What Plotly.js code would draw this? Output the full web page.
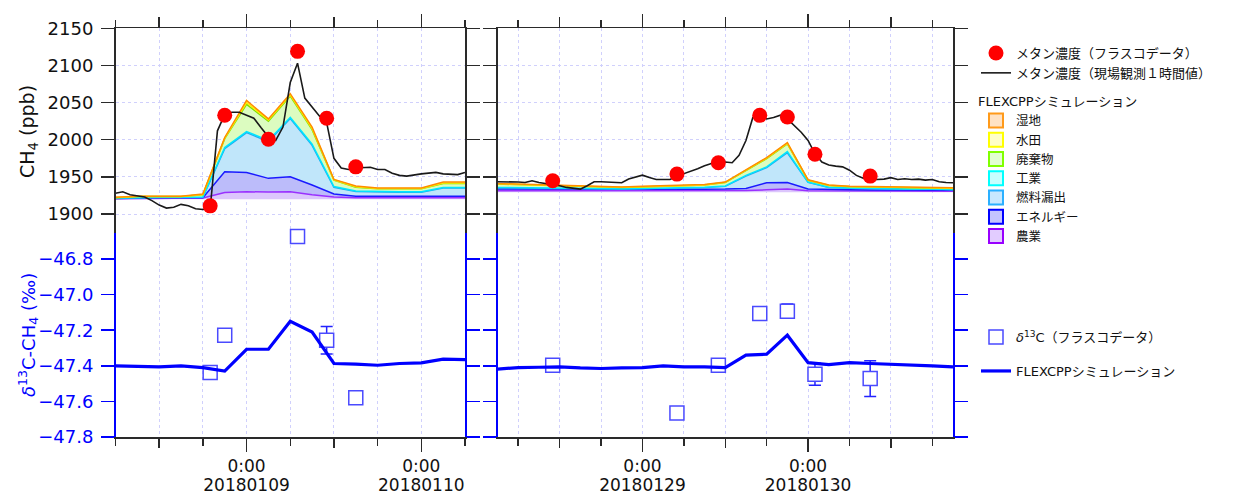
<!DOCTYPE html>
<html><head><meta charset="utf-8">
<script src="https://cdn.plot.ly/plotly-3.0.1.min.js"></script>
<style>html,body{margin:0;padding:0;background:#fff}#chart{width:1237px;height:497px}</style>
</head><body><div id="chart"></div>
<script>
// ================= DATA =================
// --- left period (2018-01-08 .. 2018-01-10) ---
const leftSimTimes = ["2018-01-08 06:00","2018-01-08 09:00","2018-01-08 12:00","2018-01-08 15:00","2018-01-08 18:00","2018-01-08 21:00","2018-01-09 00:00","2018-01-09 03:00","2018-01-09 06:00","2018-01-09 09:00","2018-01-09 12:00","2018-01-09 15:00","2018-01-09 18:00","2018-01-09 21:00","2018-01-10 00:00","2018-01-10 03:00","2018-01-10 06:00"];
const leftBackground = [1920,1920,1920,1920,1920,1920,1920,1920,1920,1920,1920,1920,1920,1920,1920,1920,1920];
const leftAgri     = [0.5,0.7,1,1,1.5,9,10,9.5,10,6,3,2,2,2,2,2,2];
const leftEnergy   = [0.5,1.3,1,1,0.5,28,26,18.5,20,13,4,2,2,2,2,2,2];
const leftFuel     = [0.3,0.3,0.3,0.3,0.7,31,53.5,49.5,78.5,53.5,9,6.3,5.3,5.3,5.3,11,11];
const leftIndustry = [0.2,0.2,0.2,0.2,0.3,1.5,1.5,1.5,1.5,1.5,1,0.7,0.7,0.7,0.7,0.8,0.8];
const leftWaste    = [0.5,1,1,1,3,12,36.6,26,28.8,19.6,8.6,5,4,4,4,5.2,5.2];
const leftRice     = [0.2,0.2,0.2,0.2,0.3,0.7,2.5,1.5,1.5,1.5,0.4,0.8,0.5,0.5,0.5,0.8,0.8];
const leftWetland  = [0.3,0.3,0.3,0.3,0.7,0.8,2.9,1.5,1.7,1.9,0.5,0.8,0.5,0.5,0.5,1.2,1.2];
const leftSimD13C  = [-47.400,-47.403,-47.406,-47.400,-47.410,-47.430,-47.307,-47.307,-47.150,-47.210,-47.387,-47.390,-47.397,-47.387,-47.383,-47.363,-47.365];

const leftObsTimes = ["2018-01-08 06:00","2018-01-08 07:00","2018-01-08 08:00","2018-01-08 09:00","2018-01-08 10:00","2018-01-08 11:00","2018-01-08 12:00","2018-01-08 13:00","2018-01-08 14:00","2018-01-08 15:00","2018-01-08 16:00","2018-01-08 17:00","2018-01-08 18:00","2018-01-08 19:00","2018-01-08 20:00","2018-01-08 21:00","2018-01-08 22:00","2018-01-08 23:00",
"2018-01-09 00:00","2018-01-09 01:00","2018-01-09 02:00","2018-01-09 03:00","2018-01-09 04:00","2018-01-09 05:00","2018-01-09 06:00","2018-01-09 07:00","2018-01-09 08:00","2018-01-09 09:00","2018-01-09 10:00","2018-01-09 11:00","2018-01-09 12:00","2018-01-09 13:00","2018-01-09 14:00","2018-01-09 15:00","2018-01-09 16:00","2018-01-09 17:00","2018-01-09 18:00","2018-01-09 19:00","2018-01-09 20:00","2018-01-09 21:00","2018-01-09 22:00","2018-01-09 23:00",
"2018-01-10 00:00","2018-01-10 01:00","2018-01-10 02:00","2018-01-10 03:00","2018-01-10 04:00","2018-01-10 05:00","2018-01-10 06:00"];
const leftObsCH4 = [1928,1930,1926,1925,1923,1918,1912,1908,1909,1913,1911,1907,1906,1907,2012,2034,2037,2037,
2033,2029,2016,2004,1999,2017,2077,2103,2056,2044,2032,2023,1975,1962,1960,1962,1963,1963,1960,1960,1955,1952,1951,1953,
1954,1955,1956,1954,1954,1953,1956];

const leftFlaskTimes = ["2018-01-08 19:00","2018-01-08 21:00","2018-01-09 03:00","2018-01-09 07:00","2018-01-09 11:00","2018-01-09 15:00"];
const leftFlaskCH4   = [1911,2033,2000.6,2119,2029,1963.5];
const leftIsoTimes   = ["2018-01-08 19:00","2018-01-08 21:00","2018-01-09 07:00","2018-01-09 11:00","2018-01-09 15:00"];
const leftIsoD13C    = [-47.438,-47.228,-46.674,-47.256,-47.579];
const leftIsoErr     = [0,0,0,0.077,0];

// --- right period (2018-01-28 .. 2018-01-30) ---
const rightSimTimes = ["2018-01-28 03:00","2018-01-28 06:00","2018-01-28 09:00","2018-01-28 12:00","2018-01-28 15:00","2018-01-28 18:00","2018-01-28 21:00","2018-01-29 00:00","2018-01-29 03:00","2018-01-29 06:00","2018-01-29 09:00","2018-01-29 12:00","2018-01-29 15:00","2018-01-29 18:00","2018-01-29 21:00","2018-01-30 00:00","2018-01-30 03:00","2018-01-30 06:00","2018-01-30 09:00","2018-01-30 12:00","2018-01-30 15:00","2018-01-30 18:00","2018-01-30 21:00"];
const rightBackground = [1929.3,1929.3,1929.3,1929.3,1929.3,1929.3,1929.3,1929.3,1929.3,1929.3,1929.3,1929.3,1929.3,1929.3,1929.3,1929.3,1929.3,1929.3,1929.3,1929.3,1929.3,1929.3,1929.3];
const rightAgri     = [2.0,2.0,2.0,2.0,2.0,2.0,2.0,2.0,2.0,2.0,2.0,2.0,2.2,3.2,4.3,2.0,1.8,1.8,1.7,1.7,1.6,1.5,1.5];
const rightEnergy   = [2.3,2.2,2.0,1.8,1.6,1.5,1.5,1.6,1.7,1.8,1.9,2.2,3.0,9.5,8.9,2.3,1.5,1.4,1.3,1.3,1.2,1.2,1.2];
const rightFuel     = [1.9,1.7,1.5,1.2,0.8,0.9,0.9,1.3,1.7,1.7,2.6,4.0,16.7,20.5,40.0,8.9,3.2,2.2,1.7,1.5,1.2,1.2,0.7];
const rightIndustry = [0.3,0.3,0.3,0.3,0.3,0.3,0.3,0.3,0.3,0.3,0.3,0.3,0.8,1.0,1.5,0.5,0.3,0.3,0.3,0.3,0.3,0.3,0.3];
const rightWaste    = [4.5,4.0,3.5,3.0,2.5,2.0,1.7,2.0,2.0,2.8,2.8,4.5,6.5,11.0,10.5,2.3,2.3,1.8,2.0,1.5,1.5,1.0,1.5];
const rightRice     = [0.3,0.3,0.3,0.3,0.3,0.3,0.3,0.3,0.3,0.3,0.3,0.3,0.7,0.7,0.7,0.3,0.3,0.3,0.3,0.3,0.3,0.3,0.3];
const rightWetland  = [0.4,0.4,0.4,0.4,0.4,0.4,0.4,0.4,0.4,0.4,0.4,0.4,0.8,0.8,0.8,0.4,0.4,0.4,0.4,0.4,0.4,0.4,0.4];
const rightSimD13C  = [-47.419,-47.410,-47.408,-47.406,-47.412,-47.415,-47.412,-47.410,-47.400,-47.406,-47.406,-47.410,-47.340,-47.335,-47.228,-47.382,-47.393,-47.382,-47.387,-47.390,-47.395,-47.400,-47.406];

const rightObsTimes = ["2018-01-28 03:00","2018-01-28 04:00","2018-01-28 05:00","2018-01-28 06:00","2018-01-28 07:00","2018-01-28 08:00","2018-01-28 09:00","2018-01-28 10:00","2018-01-28 11:00","2018-01-28 12:00","2018-01-28 13:00","2018-01-28 14:00","2018-01-28 15:00","2018-01-28 16:00","2018-01-28 17:00","2018-01-28 18:00","2018-01-28 19:00","2018-01-28 20:00","2018-01-28 21:00","2018-01-28 22:00","2018-01-28 23:00",
"2018-01-29 00:00","2018-01-29 01:00","2018-01-29 02:00","2018-01-29 03:00","2018-01-29 04:00","2018-01-29 05:00","2018-01-29 06:00","2018-01-29 07:00","2018-01-29 08:00","2018-01-29 09:00","2018-01-29 10:00","2018-01-29 11:00","2018-01-29 12:00","2018-01-29 13:00","2018-01-29 14:00","2018-01-29 15:00","2018-01-29 16:00","2018-01-29 17:00","2018-01-29 18:00","2018-01-29 19:00","2018-01-29 20:00","2018-01-29 21:00","2018-01-29 22:00","2018-01-29 23:00",
"2018-01-30 00:00","2018-01-30 01:00","2018-01-30 02:00","2018-01-30 03:00","2018-01-30 04:00","2018-01-30 05:00","2018-01-30 06:00","2018-01-30 07:00","2018-01-30 08:00","2018-01-30 09:00","2018-01-30 10:00","2018-01-30 11:00","2018-01-30 12:00","2018-01-30 13:00","2018-01-30 14:00","2018-01-30 15:00","2018-01-30 16:00","2018-01-30 17:00","2018-01-30 18:00","2018-01-30 19:00","2018-01-30 20:00","2018-01-30 21:00"];
const rightObsCH4 = [1943.4,1943.5,1943.4,1943.0,1942.5,1944.7,1942.5,1941.0,1940.0,1938.0,1935.8,1934.5,1933.5,1938.0,1943.4,1943.4,1943.0,1942.0,1942.0,1947.0,1950.0,
1952.3,1949.0,1946.5,1946.5,1946.5,1951.0,1954.0,1958.0,1961.0,1965.0,1968.0,1969.5,1970.0,1969.0,1979.0,1999.0,2030.0,2033.0,2028.0,2030.0,2033.0,2028.0,2019.0,2010.0,
1999.0,1981.0,1970.0,1966.0,1964.5,1963.5,1959.0,1952.0,1948.0,1945.6,1946.5,1947.0,1949.0,1946.5,1947.4,1946.5,1947.0,1945.6,1946.5,1943.4,1942.5,1942.0];

const rightFlaskTimes = ["2018-01-28 11:00","2018-01-29 05:00","2018-01-29 11:00","2018-01-29 17:00","2018-01-29 21:00","2018-01-30 01:00","2018-01-30 09:00"];
const rightFlaskCH4   = [1944.7,1953.7,1969,2032.8,2030.6,1980.5,1951];
const rightIsoD13C    = [-47.397,-47.665,-47.397,-47.106,-47.093,-47.447,-47.472];
const rightIsoErr     = [0,0,0,0,0.04,0.062,0.1];

// --- tick labels ---
const leftDayTicks    = ["2018-01-09 00:00","2018-01-10 00:00"];
const leftTimeLabels  = ["0:00","0:00"];
const leftDateLabels  = ["20180109","20180110"];
const leftNoonTicks   = ["2018-01-08 12:00","2018-01-09 12:00"];
const rightDayTicks   = ["2018-01-29 00:00","2018-01-30 00:00"];
const rightTimeLabels = ["0:00","0:00"];
const rightDateLabels = ["20180129","20180130"];
const rightNoonTicks  = ["2018-01-28 12:00","2018-01-29 12:00","2018-01-30 12:00"];
const ch4Ticks = [1900,1950,2000,2050,2100,2150];
const d13Ticks = [-47.8,-47.6,-47.4,-47.2,-47.0,-46.8];

// --- names ---
const sourceNames = ["農業","エネルギー","燃料漏出","工業","廃棄物","水田","湿地"]; // bottom -> top
const legendOrder = ["湿地","水田","廃棄物","工業","燃料漏出","エネルギー","農業"];

// ================= STYLE =================
const srcLine = {"湿地":"#ff8c00","水田":"#ffee00","廃棄物":"#80e000","工業":"#00e5ff","燃料漏出":"#22a8ee","エネルギー":"#1a1aff","農業":"#9a30ff"};
const srcFill = {"湿地":"#ffdcb4","水田":"#ffffbe","廃棄物":"#dcfcc0","工業":"#c4fcff","燃料漏出":"#c0e6fa","エネルギー":"#bcbcfa","農業":"#dcc6fc"};
const legFill = {"湿地":"#ffe2c4","水田":"#ffffc8","廃棄物":"#e2ffd2","工業":"#c8ffff","燃料漏出":"#c8e8ff","エネルギー":"#c4c4ff","農業":"#e2ccff"};
const legLine = {"湿地":"#ff9a1a","水田":"#ffff00","廃棄物":"#80ff00","工業":"#00ffff","燃料漏出":"#2ab0ff","エネルギー":"#0000ff","農業":"#9900ff"};

const W = 1237, H = 497;
const px = v => v / W, py = v => 1 - v / H;
const LAT = "DejaVu Sans, Noto Sans CJK JP, sans-serif";
const JP = "DejaVu Sans, Noto Sans CJK JP, sans-serif";
const AX = "#2a2a2a";
const GRID = "#d0d0fc";
const BLUE = "#0000ff";

const traces = [];
function addStack(times, bg, comps, xa, ya, grp) {
  traces.push({type:"scatter", mode:"lines", x:times, y:bg, xaxis:xa, yaxis:ya, stackgroup:grp,
    fill:"none", line:{width:0, color:"rgba(0,0,0,0)"}, showlegend:false, hoverinfo:"skip"});
  sourceNames.forEach((n, i) => {
    traces.push({type:"scatter", mode:"lines", x:times, y:comps[i], xaxis:xa, yaxis:ya, stackgroup:grp,
      fill:"tonexty", fillcolor:srcFill[n], line:{width:1.5, color:srcLine[n]}, name:n, showlegend:false});
  });
}
addStack(leftSimTimes, leftBackground, [leftAgri,leftEnergy,leftFuel,leftIndustry,leftWaste,leftRice,leftWetland], "x", "y", "L");
addStack(rightSimTimes, rightBackground, [rightAgri,rightEnergy,rightFuel,rightIndustry,rightWaste,rightRice,rightWetland], "x2", "y2", "R");

// observations
traces.push({type:"scatter", mode:"lines", x:leftObsTimes, y:leftObsCH4, xaxis:"x", yaxis:"y",
  line:{color:"#1a1a1a", width:1.6}, name:"メタン濃度（現場観測１時間値）", showlegend:false});
traces.push({type:"scatter", mode:"lines", x:rightObsTimes, y:rightObsCH4, xaxis:"x2", yaxis:"y2",
  line:{color:"#1a1a1a", width:1.6}, showlegend:false});
traces.push({type:"scatter", mode:"markers", x:leftFlaskTimes, y:leftFlaskCH4, xaxis:"x", yaxis:"y",
  marker:{color:"#ff0000", size:15}, cliponaxis:false, name:"メタン濃度（フラスコデータ）", showlegend:false});
traces.push({type:"scatter", mode:"markers", x:rightFlaskTimes, y:rightFlaskCH4, xaxis:"x2", yaxis:"y2",
  marker:{color:"#ff0000", size:15}, cliponaxis:false, showlegend:false});

// isotope panel
const isoMarker = {symbol:"square", size:14, color:"#ffffff", line:{color:"#4a4aff", width:1.5}};
const isoErr = arr => ({type:"data", array:arr, visible:true, color:"#2222ff", thickness:1.5, width:6});
traces.push({type:"scatter", mode:"markers", x:leftIsoTimes, y:leftIsoD13C, xaxis:"x3", yaxis:"y3",
  error_y:isoErr(leftIsoErr), marker:isoMarker, cliponaxis:false, showlegend:false});
traces.push({type:"scatter", mode:"markers", x:rightFlaskTimes, y:rightIsoD13C, xaxis:"x4", yaxis:"y4",
  error_y:isoErr(rightIsoErr), marker:isoMarker, cliponaxis:false, showlegend:false});
traces.push({type:"scatter", mode:"lines", x:leftSimTimes, y:leftSimD13C, xaxis:"x3", yaxis:"y3",
  line:{color:BLUE, width:3.2}, showlegend:false});
traces.push({type:"scatter", mode:"lines", x:rightSimTimes, y:rightSimD13C, xaxis:"x4", yaxis:"y4",
  line:{color:BLUE, width:3.2}, showlegend:false});

// legend entries
traces.push({type:"scatter", mode:"markers", x:[null], y:[null], xaxis:"x", yaxis:"y",
  marker:{color:"#ff0000", size:15}, name:"メタン濃度（フラスコデータ）", legend:"legend"});
traces.push({type:"scatter", mode:"lines", x:[null], y:[null], xaxis:"x", yaxis:"y",
  line:{color:"#1a1a1a", width:1.6}, name:"メタン濃度（現場観測１時間値）", legend:"legend"});
legendOrder.forEach(n => {
  traces.push({type:"scatter", mode:"markers", x:[null], y:[null], xaxis:"x", yaxis:"y",
    marker:{symbol:"square", size:14, color:legFill[n], line:{color:legLine[n], width:2}}, name:n, legend:"legend2"});
});
traces.push({type:"scatter", mode:"markers", x:[null], y:[null], xaxis:"x3", yaxis:"y3",
  marker:isoMarker, name:"<i>δ</i><sup>13</sup>C（フラスコデータ）", legend:"legend3"});
traces.push({type:"scatter", mode:"lines", x:[null], y:[null], xaxis:"x3", yaxis:"y3",
  line:{color:BLUE, width:3.2}, name:"FLEXCPPシミュレーション", legend:"legend4"});

// overlay axes (12:00 ticks, date labels) need a trace each
[["x5","y"],["x6","y2"],["x7","y3"],["x8","y4"],["x9","y3"],["x10","y4"]].forEach(([xa,ya]) => {
  traces.push({type:"scatter", mode:"lines", x:[null], y:[null], xaxis:xa, yaxis:ya, showlegend:false, hoverinfo:"skip"});
});

// ================= LAYOUT =================
const leftRange  = ["2018-01-08 06:00","2018-01-10 06:00"];
const rightRange = ["2018-01-28 03:00","2018-01-30 21:00"];
const dLeft  = [px(115.5), px(465)];
const dRight = [px(497.5), px(953)];
const dTop   = [py(232.5), py(28.3)];
const dBot   = [py(437), py(232.5)];
const SIX = 6*3600*1000;
const tickFont = {family:LAT, size:18, color:"#111"};
const dateFont = {family:LAT, size:17, color:"#111"};

function xMain(range, dom, anchor, side, tv, tt) {
  const ax = {type:"date", range:range, domain:dom, anchor:anchor, side:side,
    showline:true, linecolor:AX, linewidth:1.5,
    tickmode:"array", tickvals:tv, showticklabels: !!tt,
    ticks:"outside", ticklen:13, tickwidth:1.5, tickcolor:AX, tickfont:dateFont,
    showgrid:true, gridcolor:GRID, griddash:"dot", gridwidth:1,
    minor:{ticks:"outside", ticklen:7, tickwidth:1.5, tickcolor:AX, dtick:SIX, tick0:"2018-01-01",
      showgrid:true, gridcolor:GRID, griddash:"dot", gridwidth:1},
    zeroline:false, automargin:false, fixedrange:true};
  if (tt) ax.ticktext = tt;
  return ax;
}
function xNoon(range, over, anchor, side, tv) {
  return {type:"date", range:range, overlaying:over, anchor:anchor, side:side,
    showline:false, showgrid:false, tickmode:"array", tickvals:tv, showticklabels:false,
    ticks:"outside", ticklen:10, tickwidth:1.5, tickcolor:AX, zeroline:false, automargin:false};
}
function xDate(range, over, anchor, tv, tt) {
  return {type:"date", range:range, overlaying:over, anchor:anchor, side:"bottom",
    showline:false, showgrid:false, tickmode:"array", tickvals:tv, ticktext:tt, showticklabels:true,
    ticks:"", ticklabelstandoff:36, tickfont:dateFont, zeroline:false, automargin:false};
}
function yAx(range, dom, anchor, tv, color, labels, fmt) {
  return {range:range, domain:dom, anchor:anchor, tickmode:"array", tickvals:tv,
    showline:true, linecolor:color, linewidth:1.5, mirror:"ticks",
    ticks:"outside", ticklen:13, tickwidth:1.5, tickcolor:color,
    showticklabels:labels, tickformat:fmt, ticklabelstandoff:4,
    tickfont:{family:LAT, size:18, color: color === BLUE ? BLUE : "#111"},
    zeroline:false, automargin:false, fixedrange:true};
}

const yTopRange = [1875.1, 2150];
const yBotRange = [-47.8, -46.651];
const legFontJP = {family:JP, size:13, color:"#111"};

const layout = {
  width:W, height:H, margin:{l:0,r:0,t:0,b:0}, paper_bgcolor:"#fff", plot_bgcolor:"rgba(0,0,0,0)",
  font:{family:LAT, color:"#111"},
  xaxis:  xMain(leftRange,  dLeft,  "y",  "top",    leftDayTicks,  null),
  xaxis2: xMain(rightRange, dRight, "y2", "top",    rightDayTicks, null),
  xaxis3: xMain(leftRange,  dLeft,  "y3", "bottom", leftDayTicks,  leftTimeLabels),
  xaxis4: xMain(rightRange, dRight, "y4", "bottom", rightDayTicks, rightTimeLabels),
  xaxis5: xNoon(leftRange,  "x",  "y",  "top",    leftNoonTicks),
  xaxis6: xNoon(rightRange, "x2", "y2", "top",    rightNoonTicks),
  xaxis7: xNoon(leftRange,  "x3", "y3", "bottom", leftNoonTicks),
  xaxis8: xNoon(rightRange, "x4", "y4", "bottom", rightNoonTicks),
  xaxis9: xDate(leftRange,  "x3", "y3", leftDayTicks,  leftDateLabels),
  xaxis10:xDate(rightRange, "x4", "y4", rightDayTicks, rightDateLabels),
  yaxis:  Object.assign(yAx(yTopRange, dTop, "x",  ch4Ticks, AX, true,  "d"), {showgrid:true, gridcolor:GRID, griddash:"dot"}),
  yaxis2: Object.assign(yAx(yTopRange, dTop, "x2", ch4Ticks, AX, false, "d"), {showgrid:true, gridcolor:GRID, griddash:"dot"}),
  yaxis3: Object.assign(yAx(yBotRange, dBot, "x3", d13Ticks, BLUE, true, ".1f"), {showgrid:false}),
  yaxis4: Object.assign(yAx(yBotRange, dBot, "x4", d13Ticks, BLUE, false, ".1f"), {showgrid:false}),
  showlegend:true,
  legend:  {x:px(976), y:py(38), xanchor:"left", yanchor:"top", bgcolor:"rgba(0,0,0,0)", borderwidth:0,
            font:legFontJP, traceorder:"normal", tracegroupgap:0},
  legend2: {x:px(976), y:py(89), xanchor:"left", yanchor:"top", bgcolor:"rgba(0,0,0,0)", borderwidth:0,
            title:{text:"FLEXCPPシミュレーション", font:legFontJP},
            font:{family:JP, size:12.5, color:"#111"}, traceorder:"normal", tracegroupgap:0},
  legend3: {x:px(976), y:py(322), xanchor:"left", yanchor:"top", bgcolor:"rgba(0,0,0,0)", borderwidth:0,
            font:legFontJP},
  legend4: {x:px(976), y:py(356), xanchor:"left", yanchor:"top", bgcolor:"rgba(0,0,0,0)", borderwidth:0,
            font:legFontJP},
  annotations:[
    {text:"CH<sub>4</sub> (ppb)", xref:"paper", yref:"paper", x:px(28), y:py(131), textangle:-90,
     showarrow:false, xanchor:"center", yanchor:"middle", font:{family:LAT, size:19, color:"#111"}},
    {text:"<i>δ</i><sup>13</sup>C-CH<sub>4</sub> (‰)", xref:"paper", yref:"paper", x:px(28), y:py(335), textangle:-90,
     showarrow:false, xanchor:"center", yanchor:"middle", font:{family:LAT, size:18, color:BLUE}}
  ]
};

Plotly.newPlot("chart", traces, layout, {staticPlot:true, displayModeBar:false});
</script>
</body></html>
